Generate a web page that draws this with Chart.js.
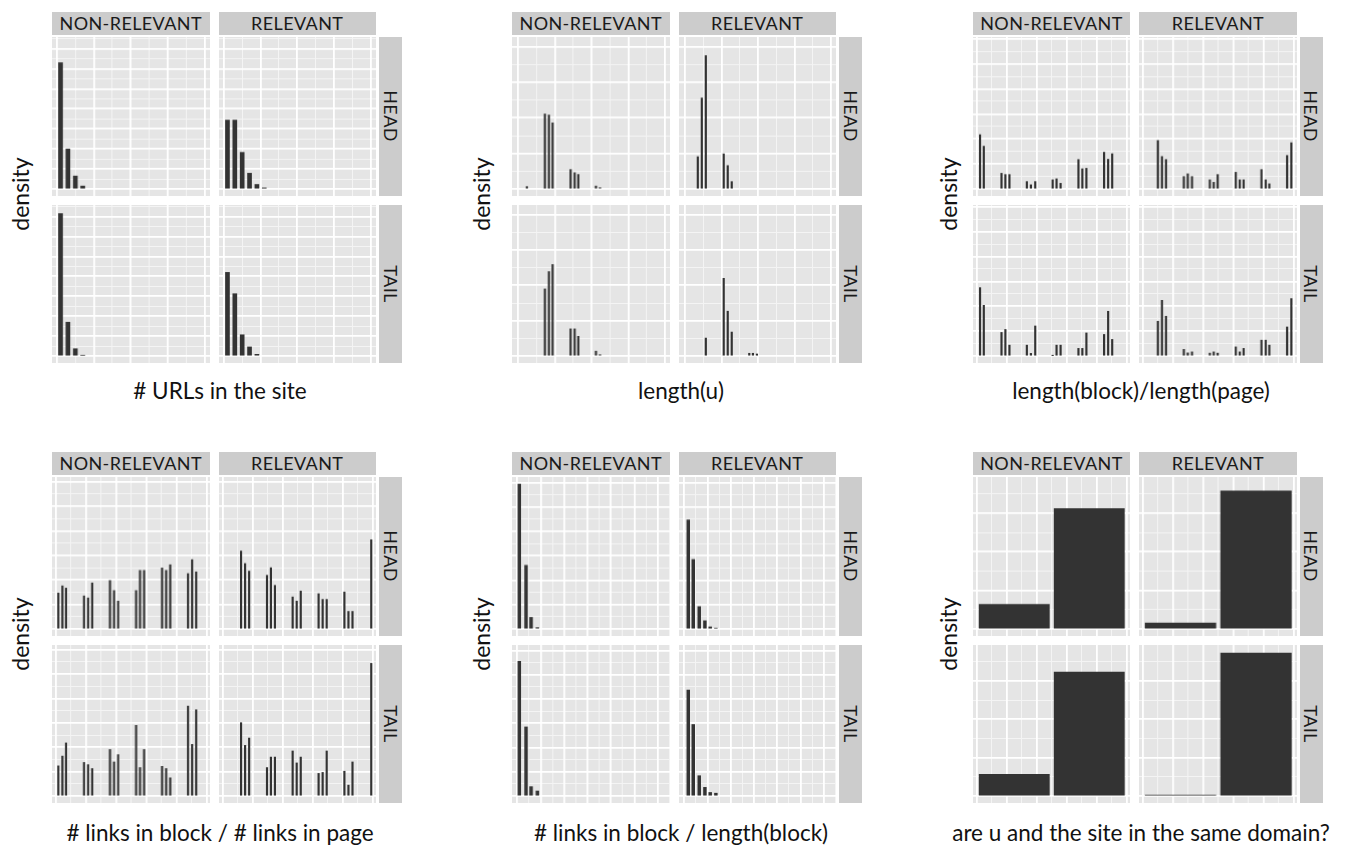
<!DOCTYPE html>
<html lang="en">
<head>
<meta charset="UTF-8" />
<title>Feature densities by relevance and query class</title>
<script src="https://cdn.jsdelivr.net/npm/chart.js"></script>
<style>
  body { margin: 0; background: #fff; font-family: Lato, "Open Sans", sans-serif; }
  #page { position: relative; width: 1345px; height: 846px; overflow: hidden; }
  .facet { position: absolute; background: #E5E5E5; }
  .strip { position: absolute; background: #CCCCCC; color: #1a1a1a; font-size: 18px; letter-spacing: 0.4px;
           display: flex; align-items: center; justify-content: center; white-space: nowrap; }
  .strip.side span { display: inline-block; transform: rotate(90deg); }
  .xtitle { position: absolute; font-size: 22.5px; color: #111; white-space: nowrap; transform: translate(-50%, -50%); }
  .ytitle { position: absolute; font-size: 23px; color: #111; white-space: nowrap; transform: translate(-50%, -50%) rotate(-90deg); }
</style>
</head>
<body>
<div id="page"></div>
<script>
  // # URLs in the site
  const urlsX = [0.5, 1.5, 2.5, 3.5, 4.5, 5.5];
  const urlsNonRelHead = [6.3, 2.0, 0.65, 0.15, 0, 0];
  const urlsRelHead = [3.44, 3.44, 1.83, 0.79, 0.23, 0.06];
  const urlsNonRelTail = [7.15, 1.7, 0.37, 0.04, 0, 0];
  const urlsRelTail = [4.2, 3.13, 1.07, 0.46, 0.09, 0];

  // length(u)
  const lenNonRelX = [2.4, 7.3, 8.4, 9.4, 14.3, 15.4, 16.4, 21.2, 22.3];
  const lenRelX = [3.5, 4.6, 5.7, 10.6, 11.7, 12.8, 17.6, 18.6, 19.7];
  const lenNonRelHead = [0.07, 2.11, 2.08, 1.86, 0.55, 0.46, 0.41, 0.085, 0.04];
  const lenRelHead = [0.91, 2.56, 3.75, 0.99, 0.66, 0.21, 0, 0, 0];
  const lenNonRelTail = [0, 1.9, 2.39, 2.59, 0.77, 0.77, 0.56, 0.14, 0.04];
  const lenRelTail = [0, 0, 0.51, 2.2, 1.27, 0.68, 0.08, 0.08, 0.06];

  // length(block)/length(page)
  const blockNonRelX = [0.022, 0.047, 0.165, 0.191, 0.218, 0.334, 0.361, 0.39, 0.506, 0.532, 0.559, 0.678, 0.704, 0.731, 0.849, 0.876, 0.903];
  const blockRelX = [0.1, 0.127, 0.154, 0.272, 0.298, 0.326, 0.444, 0.47, 0.496, 0.616, 0.642, 0.668, 0.786, 0.814, 0.838, 0.956, 0.984];
  const blockNonRelHead = [2.17, 1.71, 0.63, 0.58, 0.58, 0.3, 0.17, 0.3, 0.37, 0.41, 0.23, 1.18, 0.81, 0.83, 1.47, 1.19, 1.41];
  const blockRelHead = [1.94, 1.3, 1.18, 0.5, 0.61, 0.5, 0.37, 0.27, 0.58, 0.67, 0.37, 0.37, 0.78, 0.37, 0.21, 1.34, 1.85];
  const blockNonRelTail = [2.75, 2.04, 0.95, 1.07, 0.44, 0.44, 0.11, 1.21, 0.02, 0.44, 0.44, 0.31, 0.31, 0.93, 0.87, 1.8, 0.67];
  const blockRelTail = [1.4, 2.24, 1.6, 0.27, 0.13, 0.17, 0.12, 0.17, 0.12, 0.37, 0.17, 0.31, 0.64, 0.64, 0.44, 1.17, 2.31];

  // # links in block / # links in page
  const linksNonRelX = [0.017, 0.044, 0.068, 0.187, 0.214, 0.241, 0.359, 0.386, 0.413, 0.532, 0.558, 0.585, 0.704, 0.731, 0.758, 0.876, 0.903, 0.93];
  const linksRelX = [0.122, 0.149, 0.176, 0.295, 0.321, 0.348, 0.466, 0.493, 0.52, 0.639, 0.666, 0.693, 0.811, 0.838, 0.865, 0.99];
  const linksNonRelHead = [1.47, 1.76, 1.67, 1.35, 1.27, 1.88, 1.98, 1.57, 1.14, 1.57, 2.39, 2.39, 2.49, 2.39, 2.62, 2.26, 2.83, 2.33];
  const linksRelHead = [3.18, 2.67, 2.36, 2.19, 2.5, 1.78, 1.31, 1.14, 1.55, 1.44, 1.21, 1.21, 1.51, 0.72, 0.72, 3.64];
  const linksNonRelTail = [1.24, 1.64, 2.18, 1.38, 1.29, 1.13, 1.91, 1.4, 1.7, 2.9, 1.17, 1.91, 1.22, 1.13, 0.75, 3.69, 2.12, 3.54];
  const linksRelTail = [3.01, 2.08, 2.38, 1.17, 1.6, 1.6, 1.85, 1.36, 1.6, 0.93, 0.97, 1.85, 1.02, 0.45, 1.4, 5.44];

  // # links in block / length(block)
  const densNonRelX = [0.086, 0.373, 0.588, 0.858];
  const densRelX = [0.172, 0.386, 0.644, 0.888, 1.116, 1.36];
  const densNonRelHead = [5.93, 2.61, 0.48, 0.06];
  const densRelHead = [4.47, 2.85, 0.92, 0.34, 0.09, 0.04];
  const densNonRelTail = [5.55, 2.85, 0.39, 0.21];
  const densRelTail = [4.37, 2.95, 0.84, 0.36, 0.15, 0.12];

  // are u and the site in the same domain?  (no / yes)
  const domainX = [0.25, 0.75];
  const domainNonRelHead = [0.64, 3.12];
  const domainRelHead = [0.157, 3.58];
  const domainNonRelTail = [0.567, 3.23];
  const domainRelTail = [0.026, 3.73];

  const colLabels = ["NON-RELEVANT", "RELEVANT"];
  const rowLabels = ["HEAD", "TAIL"];

  // bar: thickness in px; barUnits: thickness in x-axis units
  const plots = [
    { title: "# URLs in the site", col: 0, row: 0, xMin: -0.65, xMax: 20.75, xStep: 5, yTop: 7.22, yStep: 1, bar: 4,
      xs: [urlsX, urlsX], head: [urlsNonRelHead, urlsRelHead], tail: [urlsNonRelTail, urlsRelTail] },
    { title: "length(u)", col: 1, row: 0, xMin: -1.65, xMax: 41.5, xStep: 10, yTop: 4.07, yStep: 1, bar: 1.5,
      xs: [lenNonRelX, lenRelX], head: [lenNonRelHead, lenRelHead], tail: [lenNonRelTail, lenRelTail] },
    { title: "length(block)/length(page)", col: 2, row: 0, xMin: -0.025, xMax: 1.025, xStep: 0.2, yTop: 5.78, yStep: 1, bar: 1.5,
      xs: [blockNonRelX, blockRelX], head: [blockNonRelHead, blockRelHead], tail: [blockNonRelTail, blockRelTail] },
    { title: "# links in block / # links in page", col: 0, row: 1, xMin: -0.025, xMax: 1.025, xStep: 0.2, yTop: 5.9, yStep: 1, bar: 1.5,
      xs: [linksNonRelX, linksRelX], head: [linksNonRelHead, linksRelHead], tail: [linksNonRelTail, linksRelTail] },
    { title: "# links in block / length(block)", col: 1, row: 1, xMin: -0.227, xMax: 6.55, xStep: 1, yTop: 5.93, yStep: 1, bar: 2.8,
      xs: [densNonRelX, densRelX], head: [densNonRelHead, densRelHead], tail: [densNonRelTail, densRelTail] },
    { title: "are u and the site in the same domain?", col: 2, row: 1, xMin: -0.025, xMax: 1.025, xStep: 0.2, yTop: 3.75, yStep: 1, barUnits: 0.468,
      xs: [domainX, domainX], head: [domainNonRelHead, domainRelHead], tail: [domainNonRelTail, domainRelTail] }
  ];

  // layout (pixels)
  const colLeft = [52, 512, 972.7];
  const rowTop = [37.3, 477.3];
  const panelW = 157.5, panelH = 158.3, colGap = 166.5, rowGap = 167.8, stripH = 22.7, sideW = 23;
  const xTitleX = [220, 681, 1141], xTitleY = [390, 832];
  const yTitleX = [20, 481, 948], yTitleY = [194, 634];

  const page = document.getElementById("page");

  function gridTicks(min, max, step, offset) {
    const out = [];
    const start = Math.ceil((min - offset) / step - 1e-9);
    for (let k = start; offset + k * step <= max + 1e-9; k++) out.push({ value: +(offset + k * step).toFixed(6) });
    return out;
  }

  function addDiv(cls, left, top, w, h, text) {
    const d = document.createElement("div");
    d.className = cls;
    d.style.left = left + "px";
    d.style.top = top + "px";
    if (w != null) d.style.width = w + "px";
    if (h != null) d.style.height = h + "px";
    if (text != null) d.innerHTML = "<span>" + text + "</span>";
    page.appendChild(d);
    return d;
  }

  function drawFacet(p, left, top, xs, ys) {
    const box = addDiv("facet", left, top, panelW, panelH);
    const canvas = document.createElement("canvas");
    box.appendChild(canvas);
    const yMin = -0.05 * p.yTop, yMax = 1.05 * p.yTop;
    const hidden = { display: false };
    const thickness = p.barUnits ? p.barUnits * panelW / (p.xMax - p.xMin) : p.bar;
    const points = xs.map((x, i) => ({ x: x, y: ys[i] })).filter(d => d.y > 0);
    new Chart(canvas, {
      type: "bar",
      data: {
        datasets: [{
          data: points,
          backgroundColor: "#333333",
          borderWidth: 0,
          barThickness: thickness
        }]
      },
      options: {
        responsive: true,
        maintainAspectRatio: false,
        animation: false,
        events: [],
        layout: { padding: 0 },
        plugins: { legend: hidden, tooltip: { enabled: false } },
        scales: {
          x: { type: "linear", min: p.xMin, max: p.xMax, offset: false, ticks: hidden, border: hidden,
               grid: { color: "#FFFFFF", lineWidth: 1.8, drawTicks: false, offset: false, z: -1 },
               afterBuildTicks: s => { s.ticks = gridTicks(p.xMin, p.xMax, p.xStep, 0); } },
          xMinor: { type: "linear", position: "bottom", min: p.xMin, max: p.xMax, offset: false, ticks: hidden, border: hidden,
               grid: { color: "#F4F4F4", lineWidth: 1, drawTicks: false, offset: false, z: -2 },
               afterBuildTicks: s => { s.ticks = gridTicks(p.xMin, p.xMax, p.xStep, p.xStep / 2); } },
          y: { type: "linear", min: yMin, max: yMax, ticks: hidden, border: hidden,
               grid: { color: "#FFFFFF", lineWidth: 1.8, drawTicks: false, z: -1 },
               afterBuildTicks: s => { s.ticks = gridTicks(yMin, yMax, p.yStep, 0); } },
          yMinor: { type: "linear", position: "left", min: yMin, max: yMax, ticks: hidden, border: hidden,
               grid: { color: "#F4F4F4", lineWidth: 1, drawTicks: false, z: -2 },
               afterBuildTicks: s => { s.ticks = gridTicks(yMin, yMax, p.yStep, p.yStep / 2); } }
        }
      }
    });
  }

  plots.forEach(p => {
    const L = colLeft[p.col], T = rowTop[p.row];
    colLabels.forEach((lab, c) => {
      addDiv("strip", L + c * colGap, T - stripH - 2.6, panelW, stripH, lab);
    });
    rowLabels.forEach((lab, r) => {
      addDiv("strip side", L + colGap + panelW + 3, T + r * rowGap, sideW, panelH, lab);
    });
    [p.head, p.tail].forEach((rowData, r) => {
      rowData.forEach((ys, c) => {
        drawFacet(p, L + c * colGap, T + r * rowGap, p.xs[c], ys);
      });
    });
    addDiv("xtitle", xTitleX[p.col], xTitleY[p.row], null, null, p.title);
    addDiv("ytitle", yTitleX[p.col], yTitleY[p.row], null, null, "density");
  });
</script>
</body>
</html>
